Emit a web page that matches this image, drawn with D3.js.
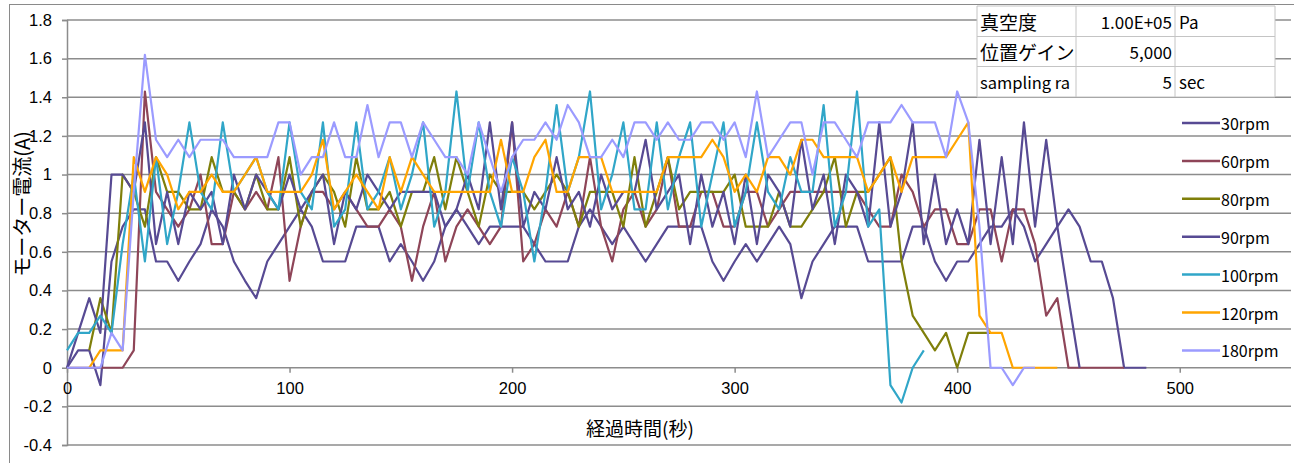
<!DOCTYPE html>
<html>
<head>
<meta charset="utf-8">
<script src="https://cdn.jsdelivr.net/npm/d3@7"></script>
<style>
  body { margin: 0; background: #fff; }
  svg { display: block; font-family: "Noto Sans CJK JP", "Noto Sans", sans-serif; }
</style>
</head>
<body>
<div id="chart"></div>
<script>
// series names, start times (sec) and sampled currents (A), every 5 sec
const seriesNames = ["30rpm", "60rpm", "80rpm", "90rpm", "100rpm", "120rpm", "180rpm"];
const seriesColors = ["#574a93", "#8e4558", "#7f7f0a", "#574a93", "#30a6c8", "#ffa500", "#9b9bff"];
const seriesStart = [0, 0, 10, 0, 0, 10, 0];
const stepSec = 5;

const rpm30 = [0, 0.09, 0.09, -0.09, 0.55, 0.73, 0.82, 0.82, 0.55, 0.55,
  0.45, 0.55, 0.64, 0.82, 0.73, 0.55, 0.45, 0.36, 0.55, 0.64,
  0.73, 0.82, 0.73, 0.55, 0.55, 0.55, 0.73, 0.73, 0.73, 0.55,
  0.64, 0.55, 0.45, 0.55, 0.73, 0.82, 0.73, 0.64, 0.73, 0.73,
  0.73, 0.73, 0.64, 0.55, 0.55, 0.55, 0.73, 0.82, 0.73, 0.64,
  0.73, 0.64, 0.55, 0.64, 0.73, 0.73, 0.73, 0.73, 0.55, 0.45,
  0.55, 0.64, 0.55, 0.64, 0.73, 0.64, 0.36, 0.55, 0.64, 0.73,
  0.73, 0.73, 0.55, 0.55, 0.55, 0.55, 0.73, 0.73, 0.55, 0.45,
  0.55, 0.55, 0.64, 0.73, 0.73, 0.82, 0.73, 0.55, 0.64, 0.73,
  0.82, 0.73, 0.55, 0.55, 0.36, 0, 0, 0];
const rpm60 = [0, 0, 0, 0, 0, 0, 0.09, 1.43, 0.91, 0.82,
  0.73, 0.82, 1.0, 0.64, 0.64, 0.91, 0.82, 0.91, 0.82, 1.09,
  0.45, 0.73, 0.91, 0.91, 0.82, 0.91, 0.82, 0.73, 0.73, 0.82,
  0.73, 0.45, 0.73, 0.91, 0.55, 0.73, 0.82, 0.73, 0.64, 0.73,
  1.27, 0.55, 0.64, 0.82, 0.73, 0.91, 0.73, 1.09, 0.73, 0.55,
  0.82, 0.91, 0.73, 0.82, 1.09, 0.73, 0.73, 0.91, 0.91, 0.73,
  0.73, 0.91, 0.91, 0.73, 0.82, 0.91, 0.91, 0.91, 0.91, 0.91,
  0.91, 0.91, 0.82, 0.73, 0.73, 1.0, 0.91, 0.73, 0.82, 0.82,
  0.64, 0.64, 0.82, 0.82, 0.55, 0.82, 0.82, 0.64, 0.27, 0.36,
  0, 0, 0, 0, 0, 0];
const rpm80 = [0.09, 0.36, 0.18, 1.0, 0.91, 0.73, 1.09, 0.91,
  0.91, 0.82, 0.82, 1.09, 0.91, 0.91, 0.82, 1.0, 0.82, 0.82,
  1.09, 0.73, 0.91, 1.0, 0.91, 0.73, 1.09, 0.82, 0.82, 0.91,
  0.73, 0.91, 0.91, 1.09, 0.82, 1.09, 0.91, 0.73, 1.0, 0.91,
  0.91, 0.91, 0.82, 0.91, 1.0, 0.91, 0.73, 0.91, 0.91, 0.91,
  0.73, 1.09, 0.73, 0.91, 1.09, 0.82, 0.91, 0.91, 0.91, 0.91,
  1.0, 0.73, 0.73, 0.73, 0.91, 0.73, 0.73, 0.82, 0.91, 1.09,
  0.73, 0.91, 0.91, 1.0, 1.09, 0.55, 0.27, 0.18, 0.09, 0.18,
  0.0, 0.18, 0.18, 0.18];
const rpm90 = [0, 0.18, 0.36, 0.18, 1.0, 1.0, 0.91, 1.27, 0.64, 0.91,
  0.64, 0.91, 0.82, 0.91, 0.64, 1.0, 0.82, 1.0, 0.91, 0.82,
  1.0, 0.82, 0.91, 1.0, 0.64, 0.91, 0.82, 1.0, 0.91, 0.82,
  0.91, 0.91, 0.91, 0.91, 0.73, 0.82, 1.0, 0.82, 1.27, 0.82,
  1.27, 0.73, 0.91, 0.82, 1.09, 0.82, 0.91, 0.73, 1.0, 0.82,
  0.91, 0.91, 1.18, 0.82, 0.91, 1.0, 0.64, 1.0, 0.73, 0.91,
  0.64, 1.0, 0.64, 1.0, 0.91, 0.73, 1.18, 0.82, 1.0, 0.64,
  1.0, 0.91, 0.73, 1.27, 0.73, 0.91, 1.27, 0.64, 1.0, 0.64,
  0.82, 0.64, 1.18, 0.64, 1.09, 0.64, 1.27, 0.73, 1.18, 0.73,
  0.36, 0];
const rpm100 = [0.09, 0.18, 0.18, 0.27, 0.18, 0.64, 1.0, 0.55, 1.09, 0.64,
  0.91, 1.27, 0.91, 0.82, 1.27, 0.91, 1.0, 1.09, 0.91, 0.82,
  1.27, 0.91, 0.82, 1.27, 0.73, 0.82, 1.27, 0.82, 0.91, 1.09,
  0.82, 1.0, 1.27, 0.73, 0.91, 1.43, 0.91, 1.27, 0.91, 0.73,
  1.09, 0.91, 0.55, 0.91, 1.36, 0.91, 1.09, 1.43, 0.82, 1.0,
  1.27, 0.82, 0.82, 1.27, 0.82, 1.09, 1.27, 0.73, 1.0, 1.27,
  0.73, 0.91, 1.27, 0.91, 0.82, 1.09, 0.91, 0.91, 1.36, 0.73,
  0.91, 1.43, 0.73, 0.82, -0.09, -0.18, 0.0, 0.09];
const rpm120 = [0.0, 0.09, 0.09, 0.09, 1.09, 0.91, 1.09, 1.0,
  0.82, 0.91, 0.91, 1.0, 0.91, 0.91, 1.0, 1.09, 0.91, 0.91,
  0.91, 0.91, 1.0, 1.18, 0.82, 0.91, 1.0, 0.91, 0.82, 1.09,
  0.91, 1.09, 1.0, 0.91, 0.91, 0.91, 0.91, 0.91, 0.91, 1.18,
  0.91, 0.91, 1.09, 1.18, 0.91, 0.91, 1.09, 1.09, 1.09, 0.91,
  0.91, 0.91, 0.91, 0.91, 1.09, 1.09, 1.09, 1.09, 1.18, 1.09,
  0.91, 1.0, 0.91, 1.09, 1.09, 1.0, 1.18, 1.18, 1.09, 1.09,
  1.09, 1.09, 0.91, 1.0, 1.09, 0.91, 1.09, 1.09, 1.09, 1.09,
  1.18, 1.27, 0.27, 0.18, 0.18, 0, 0, 0, 0, 0];
const rpm180 = [0, 0, 0, 0, 0.18, 0.09, 0.91, 1.62, 1.18, 1.09,
  1.18, 1.09, 1.18, 1.18, 1.18, 1.09, 1.09, 1.09, 1.09, 1.27,
  1.27, 1.0, 1.09, 1.09, 1.27, 1.09, 1.09, 1.36, 1.09, 1.27,
  1.27, 1.09, 1.27, 1.18, 1.09, 1.09, 1.0, 1.27, 1.09, 0.91,
  1.09, 1.18, 1.18, 1.27, 1.18, 1.36, 1.27, 1.09, 1.09, 1.18,
  1.09, 1.27, 1.27, 1.18, 1.27, 1.18, 1.18, 1.27, 1.27, 1.18,
  1.27, 1.09, 1.43, 1.09, 1.18, 1.27, 1.27, 1.0, 1.27, 1.27,
  1.18, 1.09, 1.27, 1.27, 1.27, 1.36, 1.27, 1.27, 1.27, 1.09,
  1.43, 1.27, 0.73, 0, 0, -0.09, 0, 0];

const seriesValues = [rpm30, rpm60, rpm80, rpm90, rpm100, rpm120, rpm180];

const xTicks = [0, 100, 200, 300, 400, 500];
const yTicks = [-0.4, -0.2, 0, 0.2, 0.4, 0.6, 0.8, 1.0, 1.2, 1.4, 1.6, 1.8];

const tableLabels = ["真空度", "位置ゲイン", "sampling ra"];
const tableValues = ["1.00E+05", "5,000", "5"];
const tableUnits = ["Pa", "", "sec"];

const width = 1294, height = 463;
const margin = {top: 20, right: 3, bottom: 18, left: 67};
const gridColor = "#8c8c8c";

const svg = d3.select("#chart").append("svg")
  .attr("width", width)
  .attr("height", height);

// outer chart frame
svg.append("rect")
  .attr("x", 9.5).attr("y", 4.5)
  .attr("width", 1300).attr("height", 500)
  .attr("fill", "none")
  .attr("stroke", "#8a8a8a");

const x = d3.scaleLinear().domain([0, 550]).range([margin.left, width - margin.right]);
const y = d3.scaleLinear().domain([-0.4, 1.8]).range([height - margin.bottom, margin.top]);

// horizontal gridlines
svg.append("g")
  .selectAll("line")
  .data(yTicks)
  .join("line")
    .attr("x1", margin.left)
    .attr("x2", width - margin.right)
    .attr("y1", d => y(d))
    .attr("y2", d => y(d))
    .attr("stroke", gridColor)
    .attr("stroke-width", 1.5);

// y axis
const fmt = d => String(+d.toFixed(1));
const yAxis = svg.append("g")
  .attr("transform", `translate(${margin.left},0)`)
  .call(d3.axisLeft(y).tickValues(yTicks).tickSize(5).tickPadding(10).tickFormat(fmt));
yAxis.selectAll("path, line").attr("stroke", gridColor).attr("stroke-width", 1.5);
yAxis.selectAll("text").attr("fill", "#000").style("font-size", "16.5px").style("font-family", "inherit");

// x axis at zero
const xAxis = svg.append("g")
  .attr("transform", `translate(0,${y(0)})`)
  .call(d3.axisBottom(x).tickValues(xTicks).tickSize(5).tickFormat(d => d));
xAxis.select("path").remove();
xAxis.selectAll("line").attr("stroke", gridColor).attr("stroke-width", 1.5);
xAxis.selectAll("text").attr("fill", "#000").attr("y", 26).attr("dy", 0)
  .style("font-size", "16.5px").style("font-family", "inherit");

// axis titles
svg.append("text")
  .attr("transform", "translate(21,204) rotate(-90)")
  .attr("text-anchor", "middle")
  .attr("dominant-baseline", "central")
  .style("font-size", "20px")
  .text("モーター電流(A)");

svg.append("text")
  .attr("x", 640).attr("y", 427)
  .attr("text-anchor", "middle")
  .attr("dominant-baseline", "central")
  .style("font-size", "19px")
  .text("経過時間(秒)");

// series lines
const line = d3.line()
  .x(d => x(d.t))
  .y(d => y(d.v));

seriesNames.forEach((name, i) => {
  const pts = seriesValues[i].map((v, k) => ({t: seriesStart[i] + k * stepSec, v: v}));
  svg.append("path")
    .datum(pts)
    .attr("fill", "none")
    .attr("stroke", seriesColors[i])
    .attr("stroke-width", 2.2)
    .attr("stroke-linejoin", "round")
    .attr("d", line);
});

// legend
const legend = svg.append("g");
seriesNames.forEach((name, i) => {
  const ly = 123 + i * 37.9;
  legend.append("line")
    .attr("x1", 1182).attr("x2", 1220)
    .attr("y1", ly).attr("y2", ly)
    .attr("stroke", seriesColors[i])
    .attr("stroke-width", 2.5);
  legend.append("text")
    .attr("x", 1221).attr("y", ly)
    .attr("dominant-baseline", "central")
    .style("font-size", "16px")
    .text(name);
});

// parameter table
const colX = [977, 1076, 1175, 1275];
const rowY = [6, 36.5, 66.5, 97];
const table = svg.append("g");
table.append("rect")
  .attr("x", colX[0]).attr("y", rowY[0])
  .attr("width", colX[3] - colX[0]).attr("height", rowY[3] - rowY[0])
  .attr("fill", "#fff");
rowY.forEach(ry => {
  table.append("line")
    .attr("x1", colX[0]).attr("x2", colX[3])
    .attr("y1", ry).attr("y2", ry)
    .attr("stroke", "#c4c4c4");
});
colX.forEach(cx => {
  table.append("line")
    .attr("x1", cx).attr("x2", cx)
    .attr("y1", rowY[0]).attr("y2", rowY[3])
    .attr("stroke", "#c4c4c4");
});
table.append("clipPath").attr("id", "c0")
  .append("rect").attr("x", colX[0]).attr("y", 0).attr("width", colX[1] - colX[0] - 1).attr("height", 100);

tableLabels.forEach((lab, r) => {
  const cy = (rowY[r] + rowY[r + 1]) / 2;
  table.append("text")
    .attr("x", colX[0] + 3).attr("y", cy)
    .attr("dominant-baseline", "central")
    .attr("clip-path", "url(#c0)")
    .style("font-size", r < 2 ? "19px" : "16.5px")
    .text(lab);
  table.append("text")
    .attr("x", colX[2] - 3).attr("y", cy)
    .attr("text-anchor", "end")
    .attr("dominant-baseline", "central")
    .style("font-size", "17px")
    .text(tableValues[r]);
  table.append("text")
    .attr("x", colX[2] + 4).attr("y", cy)
    .attr("dominant-baseline", "central")
    .style("font-size", "17px")
    .text(tableUnits[r]);
});
</script>
</body>
</html>
